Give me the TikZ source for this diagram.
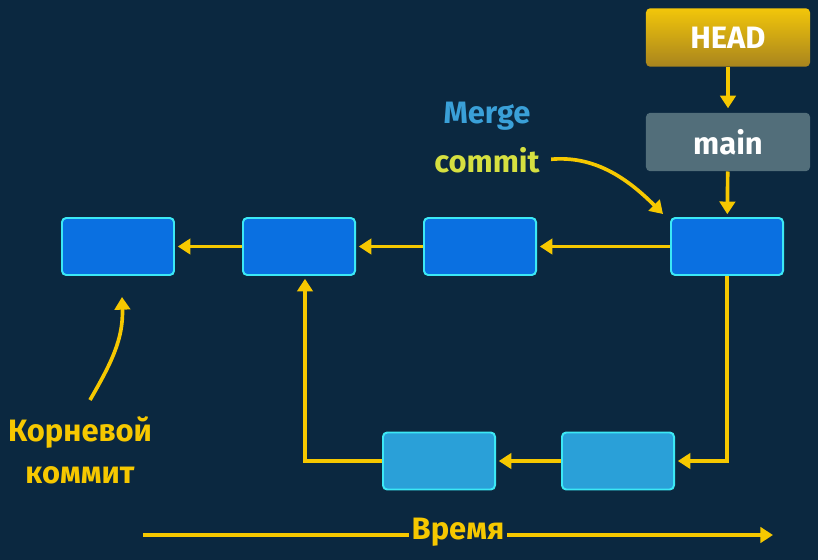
\documentclass[tikz,border=0pt]{standalone}
\usepackage{fontspec}
\setmainfont{Fira Sans}
\usetikzlibrary{arrows.meta}
\definecolor{bgnavy}{RGB}{11,40,64}
\definecolor{commitblue}{RGB}{10,112,225}
\definecolor{branchblue}{RGB}{42,160,216}
\definecolor{edgecyan}{RGB}{60,232,245}
\definecolor{arrowgold}{RGB}{246,200,0}
\definecolor{headtop}{RGB}{242,198,10}
\definecolor{headbot}{RGB}{168,132,30}
\definecolor{mainslate}{RGB}{82,110,122}
\definecolor{mergeblue}{RGB}{58,160,216}
\definecolor{commitlime}{RGB}{214,224,64}
\tikzset{
  commit/.style={draw=edgecyan,fill=commitblue,line width=1.4pt,rounded corners=3pt,
    minimum width=2.8cm,minimum height=1.425cm},
  sidecommit/.style={commit,fill=branchblue},
  pointer/.style={rounded corners=3pt,minimum width=4.1cm,minimum height=1.46cm,
    text=white,font=\bfseries\fontsize{22}{24}\selectfont},
  link/.style={draw=arrowgold,line width=2.6pt,-{Triangle[length=9pt,width=11pt]}},
  plainlink/.style={draw=arrowgold,line width=2.6pt},
  note/.style={font=\bfseries\fontsize{22}{30}\selectfont,align=center,inner sep=2pt},
}
\begin{document}
\begin{tikzpicture}[x=0.025cm,y=-0.025cm]
\fill[bgnavy] (0,0) rectangle (818,560);
% pointers
\node[pointer,top color=headtop,bottom color=headbot] (head) at (728,37.5) {HEAD};
\node[pointer,fill=mainslate] (main) at (728,142) {main};
% commits
\node[commit] (c1) at (118,246.5) {};
\node[commit] (c2) at (299,246.5) {};
\node[commit] (c3) at (480,246.5) {};
\node[commit] (merge) at (727,246.5) {};
\node[sidecommit] (b1) at (439,461) {};
\node[sidecommit] (b2) at (618,461) {};
% links
\draw[link,shorten >=3pt] (head) -- (main);
\draw[link,shorten >=2pt] (main) -- (merge);
\draw[link,shorten >=2pt] (merge) -- (c3);
\draw[link,shorten >=2pt] (c3) -- (c2);
\draw[link,shorten >=2pt] (c2) -- (c1);
\draw[link,shorten >=2pt] (merge.south) |- (b2.east);
\draw[link,shorten >=2pt] (b2) -- (b1);
\draw[link,shorten >=2pt] (b1.west) -| ([xshift=0.15cm]c2.south);
% labels
\node[note,text=mergeblue] (mergeword) at (487,116) {Merge};
\node[note,text=commitlime] (commitword) at (487,160) {commit};
\coordinate (mergetip) at (663,214);
\draw[link,shorten <=6pt] (commitword.east) to[out=5,in=135] (mergetip);
\node[note,text=arrowgold] (rootlabel) at (80,450) {Корневой\\коммит};
\coordinate (rootfoot) at (90,400);
\coordinate (roottip) at (122,297);
\draw[link] (rootfoot) to[out=60,in=-88] (roottip);
% time axis
\coordinate (tstart) at (143,535);
\coordinate (tend) at (773,535);
\node[note,text=arrowgold] (timeword) at (458,532) {Время};
\draw[plainlink] (tstart) -- (tstart -| timeword.west);
\draw[link] (tend -| timeword.east) -- (tend);
\end{tikzpicture}
\end{document}
